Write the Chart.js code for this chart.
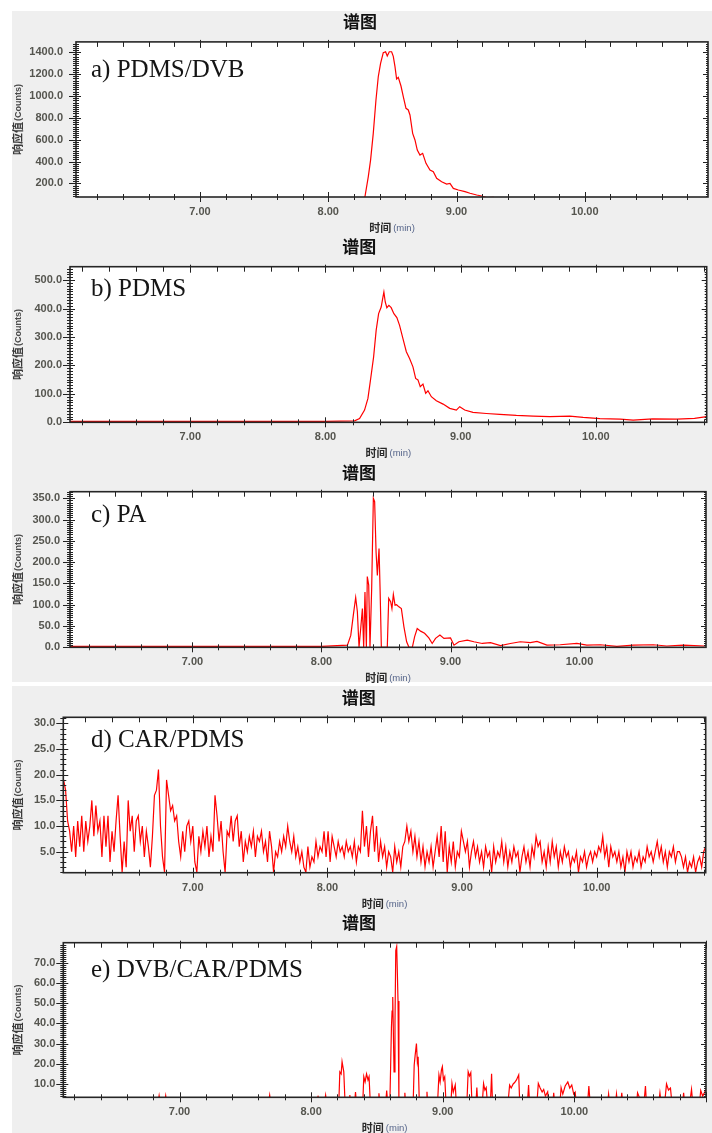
<!DOCTYPE html>
<html>
<head>
<meta charset="utf-8">
<script src="https://cdn.jsdelivr.net/npm/chart.js@4.4.1/dist/chart.umd.min.js"></script>
<style>
  body { margin: 0; background: #fff; width: 712px; height: 1133px; position: relative; overflow: hidden; }
  #bg { position: absolute; left: 12px; top: 11px; width: 700px; height: 1122px; background: #efefef; }
  #gap { position: absolute; left: 12px; top: 682px; width: 700px; height: 4px; background: #fff; }
  canvas { position: absolute; left: 12px; }
</style>
</head>
<body>
<div id="bg"></div>
<div id="gap"></div>
<canvas id="c0"></canvas>
<canvas id="c1"></canvas>
<canvas id="c2"></canvas>
<canvas id="c3"></canvas>
<canvas id="c4"></canvas>
<script>
// ---- data ----
const chartTitle = '谱图';
const panelLabels = ['a) PDMS/DVB', 'b) PDMS', 'c) PA', 'd) CAR/PDMS', 'e) DVB/CAR/PDMS'];
const xTitle = ['时间', '(min)'];
const yTitle = ['响应值', '(Counts)'];
const xTickValues = [7, 8, 9, 10];

const yTicksA = [200, 400, 600, 800, 1000, 1200, 1400];
const yTicksB = [0, 100, 200, 300, 400, 500];
const yTicksC = [0, 50, 100, 150, 200, 250, 300, 350];
const yTicksD = [5, 10, 15, 20, 25, 30];
const yTicksE = [10, 20, 30, 40, 50, 60, 70];

// a) PDMS/DVB
const timeA = [6.03, 8.25, 8.286, 8.312, 8.33, 8.351, 8.372, 8.39, 8.408, 8.429,
  8.447, 8.46, 8.476, 8.494, 8.507, 8.52, 8.533, 8.546, 8.567, 8.585,
  8.606, 8.624, 8.637, 8.658, 8.676, 8.694, 8.715, 8.736, 8.762, 8.793,
  8.819, 8.845, 8.884, 8.923, 8.949, 8.975, 9.014, 9.066, 9.105, 9.157,
  9.196, 9.235, 9.287, 9.35, 10.96];
const countsA = [30, 30, 77, 260, 413, 658, 963, 1176, 1299, 1396,
  1405, 1366, 1405, 1405, 1363, 1271, 1155, 1170, 1091, 993,
  887, 872, 826, 658, 597, 505, 459, 475, 383, 322,
  307, 246, 215, 194, 200, 154, 139, 124, 109, 93,
  84, 69, 72, 40, 20];

// b) PDMS
const timeB = [6.11, 6.5, 7.0, 7.5, 8.0, 8.215, 8.252, 8.289, 8.314, 8.333,
  8.356, 8.375, 8.393, 8.412, 8.425, 8.432, 8.442, 8.454, 8.469, 8.486,
  8.506, 8.528, 8.548, 8.573, 8.598, 8.622, 8.647, 8.667, 8.684, 8.701,
  8.721, 8.741, 8.758, 8.783, 8.82, 8.87, 8.919, 8.968, 8.993, 9.03,
  9.091, 9.19, 9.289, 9.412, 9.536, 9.659, 9.807, 9.906, 10.03, 10.18,
  10.276, 10.42, 10.6, 10.73, 10.82];
const countsB = [3, 3, 3, 3, 3, 5, 13, 43, 84, 149,
  230, 324, 382, 405, 440, 458, 423, 403, 411, 403,
  382, 368, 341, 294, 248, 224, 195, 154, 149, 125,
  134, 102, 111, 90, 76, 64, 49, 43, 55, 43,
  35, 31, 28, 24, 22, 20, 22, 17, 13, 11,
  8, 12, 11, 14, 20];

// c) PA
const timeC = [6.051, 7.0, 8.0, 8.201, 8.227, 8.247, 8.265, 8.278, 8.291, 8.304,
  8.317, 8.327, 8.337, 8.348, 8.355, 8.366, 8.376, 8.389, 8.402, 8.412,
  8.423, 8.433, 8.446, 8.454, 8.464, 8.51, 8.521, 8.536, 8.546, 8.557,
  8.57, 8.582, 8.6, 8.619, 8.639, 8.66, 8.678, 8.704, 8.722, 8.742,
  8.768, 8.799, 8.832, 8.858, 8.884, 8.918, 8.949, 9.0, 9.027, 9.065,
  9.13, 9.181, 9.246, 9.31, 9.387, 9.464, 9.541, 9.619, 9.67, 9.747,
  9.85, 9.979, 10.057, 10.16, 10.289, 10.418, 10.572, 10.675, 10.804, 10.972];
const countsC = [2, 2, 2, 5, 28, 76, 117, 84, 0, 44,
  91, 0, 130, 0, 166, 146, 0, 138, 350, 342,
  224, 169, 232, 138, 0, 0, 115, 107, 91, 124,
  99, 100, 95, 91, 48, 13, 0, 0, 25, 44,
  38, 33, 22, 9, 21, 29, 21, 22, 5, 13,
  17, 13, 9, 11, 4, 9, 13, 11, 14, 5,
  6, 9, 5, 6, 2, 5, 6, 3, 5, 3];

// d) CAR/PDMS - sampled every 0.015 min from 6.04
const startD = 6.04;
const stepD = 0.015;
const countsD = [
  19, 17, 11, 9, 5, 10, 4, 11, 6, 12, 5, 11, 7, 10, 15, 8, 14, 9, 11, 4,
  12, 6, 12, 3, 9, 5, 11, 16, 8, 1, 7, 2, 15, 9, 12, 5, 11, 12, 7, 10,
  4, 9, 6, 2, 8, 16, 17, 21, 10, 4, 1, 19, 16, 13, 14, 11, 12, 7, 4, 9,
  5, 10, 11, 7, 10, 3, 1, 8, 5, 9, 6, 10, 4, 8, 5, 16, 12, 7, 11, 5,
  1, 9, 8, 12, 7, 11, 12, 6, 9, 3, 7, 5, 8, 6, 9, 4, 8, 7, 9, 5,
  7, 3, 9, 6, 1, 5, 4, 7, 5, 8, 6, 10, 7, 5, 8, 4, 6, 3, 5, 2,
  1, 6, 2, 4, 3, 7, 4, 6, 5, 9, 4, 9, 3, 8, 6, 4, 7, 5, 6, 4,
  7, 5, 6, 4, 7, 3, 6, 5, 13, 6, 10, 4, 9, 12, 5, 10, 3, 7, 4, 6,
  2, 5, 4, 1, 6, 3, 5, 2, 6, 7, 10, 7, 9, 5, 8, 4, 7, 3, 6, 2,
  5, 3, 6, 2, 5, 8, 4, 10, 3, 9, 1, 6, 3, 7, 2, 5, 4, 9, 7, 5,
  7, 2, 5, 7, 4, 6, 3, 5, 2, 6, 4, 5, 1, 6, 3, 5, 4, 7, 3, 6,
  2, 5, 3, 6, 4, 5, 1, 4, 6, 3, 5, 2, 6, 4, 8, 6, 7, 3, 5, 2,
  6, 3, 7, 4, 6, 2, 5, 3, 6, 4, 5, 2, 4, 3, 5, 1, 4, 3, 5, 2,
  4, 5, 3, 5, 4, 6, 5, 8, 4, 6, 2, 6, 4, 5, 3, 5, 2, 4, 1, 5,
  3, 5, 2, 4, 3, 5, 2, 4, 3, 6, 4, 5, 3, 5, 7, 4, 6, 3, 5, 2,
  5, 4, 6, 3, 5, 5, 4, 2, 4, 1, 3, 2, 4, 1, 3, 4, 2, 5, 6];
const timeD = countsD.map((v, i) => +(startD + i * stepD).toFixed(3));

// e) DVB/CAR/PDMS
const timeE = [6.117,
  6.835, 6.845, 6.855, 6.885, 6.895, 6.905,
  7.675, 7.685, 7.695,
  8.045, 8.052, 8.06, 8.10, 8.11, 8.12,
  8.21, 8.218, 8.228, 8.235, 8.248, 8.258,
  8.288, 8.294, 8.30, 8.33, 8.337, 8.345,
  8.392, 8.40, 8.41, 8.421, 8.432, 8.44, 8.45,
  8.508, 8.515, 8.522, 8.566, 8.574, 8.582,
  8.598, 8.605, 8.61, 8.615, 8.62, 8.63, 8.637, 8.643, 8.65, 8.655, 8.66, 8.667,
  8.706, 8.712, 8.718,
  8.775, 8.783, 8.79, 8.80, 8.807, 8.813, 8.822,
  8.874, 8.88, 8.886,
  8.96, 8.971, 8.98, 8.99, 8.997, 9.005, 9.015, 9.025,
  9.062, 9.07, 9.08, 9.095, 9.103,
  9.183, 9.193, 9.203, 9.213, 9.222,
  9.252, 9.259, 9.266,
  9.30, 9.31, 9.32, 9.33, 9.34,
  9.362, 9.371, 9.378,
  9.495, 9.508, 9.52, 9.535, 9.546, 9.56, 9.577, 9.585,
  9.643, 9.652, 9.66,
  9.715, 9.726, 9.74, 9.755, 9.767, 9.78, 9.797, 9.805,
  9.836, 9.843, 9.85,
  9.89, 9.899, 9.912, 9.93, 9.95, 9.965, 9.98, 9.995, 10.006, 10.015,
  10.10, 10.11, 10.12,
  10.252, 10.26, 10.268, 10.312, 10.32, 10.328, 10.352, 10.36, 10.368,
  10.472, 10.48, 10.49, 10.505,
  10.528, 10.54, 10.548,
  10.64, 10.65, 10.66,
  10.685, 10.70, 10.715, 10.73, 10.742,
  10.822, 10.83, 10.838,
  10.875, 10.89, 10.9,
  10.95, 10.96, 10.975, 11.0];
const countsE = [0,
  0, 4.2, 0, 0, 4.2, 0,
  0, 4.5, 0,
  0, 4.2, 0, 0, 4.5, 0,
  0, 16, 15, 21, 16, 0,
  0, 4.5, 0, 0, 6, 0,
  0, 13.6, 11, 15, 12, 13.6, 0,
  0, 5.4, 0, 0, 6.7, 0,
  0, 22, 38, 46, 53, 16, 40, 76, 78, 65, 51, 0,
  0, 5.6, 0,
  0, 19.4, 24, 30, 21, 23.5, 0,
  0, 6.1, 0,
  0, 14.4, 11, 17, 18.6, 12, 13.6, 0,
  0, 10.3, 6, 9.5, 0,
  0, 16.1, 14, 15.6, 0,
  0, 8.2, 0,
  0, 10.2, 7, 8.2, 0,
  0, 15, 0,
  0, 9.5, 8, 10, 10.7, 12, 14.5, 0,
  0, 9.5, 0,
  0, 10.3, 8, 6, 7.3, 4, 6.1, 0,
  0, 5.6, 0,
  0, 8.2, 5, 9, 11, 8, 9.5, 5, 6, 0,
  0, 9, 0,
  0, 5, 0, 0, 5, 0, 0, 5.6, 0,
  0, 5.6, 4, 0,
  0, 9, 0,
  0, 5.6, 0,
  0, 10, 7, 8, 0,
  0, 5.6, 0,
  0, 7.3, 0,
  0, 6.8, 4, 7.3];

// ---- page geometry of each panel (pixels) ----
const panelBox = [
  { top: 10,  h: 223, tPad: [1, 10.5],  yW: 64,   yPad: 13, xH: 36,   rPad: 4,   xMin: 6.034, xMax: 10.96, yMin: 75,   yMax: 1495,  yMinor: 20,  labelDy: 35 },
  { top: 233, h: 225, tPad: [3.8, 9.5], yW: 58,   yPad: 8,  xH: 35.7, rPad: 5.3, xMin: 6.11,  xMax: 10.82, yMin: 0,    yMax: 547,   yMinor: 10,  labelDy: 29 },
  { top: 458, h: 225, tPad: [4.6, 8.7], yW: 58,   yPad: 10, xH: 35.7, rPad: 6,   xMin: 6.051, xMax: 10.98, yMin: 0,    yMax: 365.5, yMinor: 5,   labelDy: 30 },
  { top: 686, h: 225, tPad: [1.8, 9.1], yW: 51.3, yPad: 8,  xH: 38.3, rPad: 6.3, xMin: 6.038, xMax: 10.81, yMin: 0.91, yMax: 31.2,  yMinor: 1,   labelDy: 29.4 },
  { top: 907, h: 226, tPad: [5.6, 9.7], yW: 51.3, yPad: 8,  xH: 35.7, rPad: 6,   xMin: 6.117, xMax: 11.0,  yMin: 3.4,  yMax: 79.9,  yMinor: 1,   labelDy: 34.6 }
];

const tickFont = { family: 'Liberation Sans', size: 11, weight: 'bold' };
const tickColor = '#55554f';

// frame, minor ticks, panel label and axis titles
const deco = {
  id: 'deco',
  beforeDraw(chart) {
    const a = chart.chartArea, ctx = chart.ctx;
    ctx.save();
    ctx.fillStyle = '#ffffff';
    ctx.fillRect(a.left, a.top, a.right - a.left, a.bottom - a.top);
    ctx.restore();
  },
  afterDraw(chart, args, opts) {
    const { ctx, chartArea: a } = chart;
    const x = chart.scales.x, y = chart.scales.y;
    const seg = (x1, y1, x2, y2) => { ctx.beginPath(); ctx.moveTo(x1, y1); ctx.lineTo(x2, y2); ctx.stroke(); };
    ctx.save();
    ctx.strokeStyle = '#222';
    ctx.lineWidth = 1;
    // x ticks every 0.2 min
    for (let k = Math.ceil(x.min * 5); k <= Math.floor(x.max * 5); k++) {
      const px = Math.round(x.getPixelForValue(k / 5)) + 0.5;
      const major = k % 5 === 0;
      seg(px, a.bottom - (major ? 5 : 3), px, a.bottom + (major ? 5 : 3));
      seg(px, a.top - (major ? 2 : 0), px, a.top + (major ? 6 : 5));
    }
    // y ticks
    const step = opts.yMinor;
    for (let k = Math.ceil(y.min / step - 1e-9); k <= Math.floor(y.max / step + 1e-9); k++) {
      const v = k * step;
      const py = Math.round(y.getPixelForValue(v)) + 0.5;
      const r = v / opts.yMajor;
      const major = Math.abs(r - Math.round(r)) < 1e-6;
      seg(a.left - (major ? 7 : 3), py, a.left + (major ? 5 : 3), py);
      seg(a.right - (major ? 5 : 2), py, a.right, py);
    }
    // frame
    ctx.lineWidth = 1.6;
    ctx.strokeStyle = '#262626';
    ctx.strokeRect(a.left, a.top, a.right - a.left, a.bottom - a.top);

    // panel label
    ctx.fillStyle = '#151515';
    ctx.font = '25px "Liberation Serif"';
    ctx.textAlign = 'left';
    ctx.textBaseline = 'alphabetic';
    ctx.fillText(opts.label, 79, a.top + opts.labelDy);

    // x axis title
    ctx.textBaseline = 'middle';
    const f1 = 'bold 11px "Noto Sans CJK SC"', f2 = '9.5px "Liberation Sans"';
    ctx.font = f1; const w1 = ctx.measureText(xTitle[0]).width;
    ctx.font = f2; const w2 = ctx.measureText(xTitle[1]).width;
    let sx = (a.left + a.right) / 2 - (w1 + w2 + 2) / 2;
    const ty = a.bottom + 31;
    ctx.font = f1; ctx.fillStyle = '#2a2a2a'; ctx.fillText(xTitle[0], sx, ty);
    ctx.font = f2; ctx.fillStyle = '#56658a'; ctx.fillText(xTitle[1], sx + w1 + 2, ty + 0.5);

    // y axis title (rotated)
    ctx.save();
    ctx.translate(6, (a.top + a.bottom) / 2);
    ctx.rotate(-Math.PI / 2);
    const g1 = 'bold 11px "Noto Sans CJK SC"', g2 = 'bold 9px "Liberation Sans"';
    ctx.font = g1; const v1 = ctx.measureText(yTitle[0]).width;
    ctx.font = g2; const v2 = ctx.measureText(yTitle[1]).width;
    const sy = -(v1 + v2 + 1) / 2;
    ctx.font = g1; ctx.fillStyle = '#3a3a3a'; ctx.fillText(yTitle[0], sy, 0);
    ctx.font = g2; ctx.fillStyle = '#4a4a4a'; ctx.fillText(yTitle[1], sy + v1 + 1, 0.5);
    ctx.restore();

    ctx.restore();
  }
};

function makeChart(i, xs, ys, yTicks) {
  const L = panelBox[i];
  const cv = document.getElementById('c' + i);
  cv.style.top = L.top + 'px';
  cv.width = 700;
  cv.height = L.h;
  new Chart(cv, {
    type: 'line',
    data: {
      datasets: [{
        data: xs.map((t, k) => ({ x: t, y: ys[k] })),
        borderColor: '#ff0000',
        borderWidth: 1.2,
        pointRadius: 0,
        tension: 0,
        fill: false
      }]
    },
    options: {
      responsive: false,
      animation: false,
      events: [],
      layout: { padding: { top: 0, left: 0, right: L.rPad, bottom: 0 } },
      plugins: {
        legend: { display: false },
        tooltip: { enabled: false },
        title: {
          display: true,
          text: chartTitle,
          color: '#111',
          font: { family: 'Noto Sans CJK SC', size: 17, weight: 'bold', lineHeight: 1.2 },
          padding: { top: L.tPad[0], bottom: L.tPad[1] }
        },
        deco: { label: panelLabels[i], labelDy: L.labelDy, yMinor: L.yMinor, yMajor: yTicks[1] - yTicks[0] }
      },
      scales: {
        x: {
          type: 'linear',
          min: L.xMin,
          max: L.xMax,
          afterBuildTicks: s => { s.ticks = xTickValues.map(v => ({ value: v })); },
          afterFit: s => { s.height = L.xH; },
          grid: { display: false, drawTicks: false },
          border: { display: false },
          ticks: { padding: 8.4, color: tickColor, font: tickFont, autoSkip: false, maxRotation: 0, callback: v => Number(v).toFixed(2) }
        },
        y: {
          type: 'linear',
          min: L.yMin,
          max: L.yMax,
          afterBuildTicks: s => { s.ticks = yTicks.map(v => ({ value: v })); },
          afterFit: s => { s.width = L.yW; },
          grid: { display: false, drawTicks: false },
          border: { display: false },
          ticks: { padding: L.yPad, color: tickColor, font: tickFont, autoSkip: false, callback: v => Number(v).toFixed(1) }
        }
      }
    },
    plugins: [deco]
  });
}

makeChart(0, timeA, countsA, yTicksA);
makeChart(1, timeB, countsB, yTicksB);
makeChart(2, timeC, countsC, yTicksC);
makeChart(3, timeD, countsD, yTicksD);
makeChart(4, timeE, countsE, yTicksE);
</script>
</body>
</html>
